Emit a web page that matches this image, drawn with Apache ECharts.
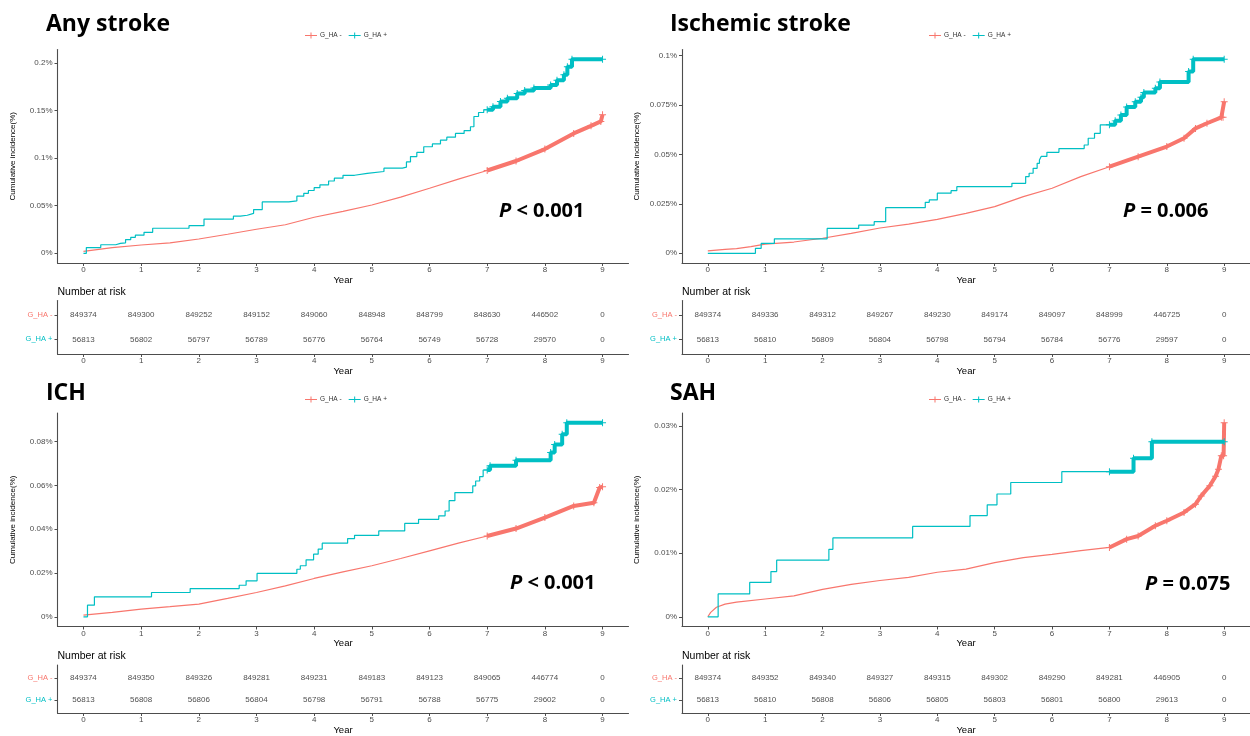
<!DOCTYPE html>
<html>
<head>
<meta charset="utf-8">
<script src="https://cdn.jsdelivr.net/npm/echarts@6/dist/echarts.min.js"></script>
<style>
  html, body { margin: 0; padding: 0; background: #fff; }
  #main { width: 1250px; height: 736px; }
</style>
</head>
<body>
<div id="main"></div>
<script>
// years shown on every x axis / risk table column
const years = [0, 1, 2, 3, 4, 5, 6, 7, 8, 9]

// cumulative incidence (%): [year, value]
const anyStrokeNeg = [[0, 0.002], [0.5, 0.006], [1, 0.0087], [1.5, 0.011], [2, 0.015], [2.5, 0.02], [3, 0.0253], [3.5, 0.03], [4, 0.0379], [4.5, 0.044], [5, 0.0508], [5.5, 0.059], [6, 0.0684], [6.5, 0.078], [7, 0.087], [7.5, 0.097], [8, 0.1095], [8.5, 0.126], [8.8, 0.134], [8.97, 0.1386], [9, 0.1456]]
const anyStrokePos = [[0, 0], [0.05, 0.006], [0.3, 0.009], [0.56, 0.0105], [0.64, 0.011], [0.73, 0.0144], [0.82, 0.0168], [0.9, 0.019], [1.05, 0.022], [1.2, 0.0263], [1.83, 0.029], [2.09, 0.036], [2.6, 0.039], [2.72, 0.04], [2.84, 0.042], [2.95, 0.046], [3.1, 0.054], [3.56, 0.055], [3.7, 0.06], [3.82, 0.063], [3.9, 0.066], [4, 0.069], [4.1, 0.072], [4.25, 0.076], [4.35, 0.079], [4.5, 0.082], [4.7, 0.084], [4.92, 0.086], [5.21, 0.0895], [5.53, 0.0905], [5.6, 0.096], [5.67, 0.1017], [5.78, 0.106], [5.9, 0.112], [6.05, 0.115], [6.19, 0.119], [6.3, 0.122], [6.45, 0.126], [6.6, 0.129], [6.71, 0.133], [6.77, 0.1438], [6.85, 0.148], [6.94, 0.1508], [7, 0.151], [7.1, 0.154], [7.23, 0.1596], [7.35, 0.163], [7.52, 0.168], [7.65, 0.171], [7.81, 0.1737], [8.1, 0.177], [8.21, 0.182], [8.33, 0.1877], [8.39, 0.196], [8.47, 0.204], [9, 0.204]]

const ischemicNeg = [[0, 0.0012], [0.3, 0.002], [0.5, 0.0024], [0.75, 0.0034], [1, 0.0046], [1.5, 0.0057], [2, 0.0076], [2.5, 0.0101], [3, 0.0128], [3.5, 0.0148], [4, 0.0172], [4.5, 0.0202], [5, 0.0236], [5.5, 0.0287], [6, 0.0329], [6.5, 0.0388], [7, 0.0438], [7.5, 0.0489], [8, 0.054], [8.3, 0.0582], [8.5, 0.0632], [8.7, 0.0658], [8.95, 0.0688], [8.98, 0.0688], [9, 0.0767]]
const ischemicPos = [[0, 0], [0.83, 0.0025], [0.93, 0.005], [1.16, 0.0073], [2.08, 0.0126], [2.63, 0.0143], [2.9, 0.016], [3.1, 0.0231], [3.79, 0.0258], [3.86, 0.027], [4, 0.0304], [4.24, 0.0317], [4.34, 0.0337], [5.3, 0.0354], [5.54, 0.0388], [5.6, 0.0405], [5.67, 0.043], [5.74, 0.0455], [5.78, 0.0472], [5.81, 0.049], [5.91, 0.0511], [6.12, 0.053], [6.56, 0.0548], [6.63, 0.0582], [6.74, 0.0607], [6.84, 0.065], [7, 0.065], [7.1, 0.067], [7.2, 0.07], [7.3, 0.074], [7.45, 0.0767], [7.55, 0.079], [7.6, 0.0813], [7.8, 0.0835], [7.88, 0.0867], [8.38, 0.092], [8.46, 0.0982], [9, 0.0982]]

const ichNeg = [[0, 0.0008], [0.5, 0.002], [1, 0.0035], [1.5, 0.0046], [2, 0.0058], [2.5, 0.0084], [3, 0.0111], [3.5, 0.0141], [4, 0.0175], [4.5, 0.0205], [5, 0.0233], [5.5, 0.0266], [6, 0.0301], [6.5, 0.0336], [7, 0.0369], [7.5, 0.0403], [8, 0.0453], [8.5, 0.0506], [8.85, 0.0521], [8.95, 0.059], [9, 0.0594]]
const ichPos = [[0, 0], [0.07, 0.0053], [0.19, 0.0091], [1.18, 0.0111], [1.85, 0.0129], [2.7, 0.0144], [2.82, 0.0164], [3.01, 0.0198], [3.7, 0.0217], [3.76, 0.0233], [3.86, 0.026], [3.99, 0.0286], [4.07, 0.0309], [4.14, 0.0336], [4.58, 0.0357], [4.7, 0.0372], [5.12, 0.0392], [5.57, 0.0426], [5.81, 0.0445], [6.16, 0.0461], [6.27, 0.0483], [6.34, 0.053], [6.44, 0.0567], [6.75, 0.0598], [6.8, 0.062], [6.87, 0.064], [6.93, 0.067], [7, 0.067], [7.05, 0.0689], [7.5, 0.0715], [8.1, 0.075], [8.17, 0.0787], [8.3, 0.0833], [8.38, 0.0886], [9, 0.0886]]

const sahNeg = [[0, 0], [0.05, 0.0007], [0.15, 0.0015], [0.3, 0.002], [0.5, 0.0023], [1, 0.0028], [1.5, 0.0033], [2, 0.0043], [2.5, 0.0051], [3, 0.0057], [3.5, 0.0062], [4, 0.007], [4.5, 0.0075], [5, 0.0085], [5.5, 0.0093], [6, 0.0098], [6.5, 0.0104], [7, 0.0109], [7.3, 0.0122], [7.5, 0.0127], [7.8, 0.0143], [8, 0.0151], [8.3, 0.0164], [8.5, 0.0177], [8.6, 0.019], [8.75, 0.0206], [8.85, 0.0221], [8.9, 0.0232], [8.95, 0.0253], [8.99, 0.0253], [9, 0.0305]]
const sahPos = [[0, 0], [0.18, 0.0036], [0.73, 0.0054], [1.1, 0.0071], [1.2, 0.0089], [2.11, 0.0106], [2.18, 0.0124], [3.57, 0.0142], [4.57, 0.0159], [4.87, 0.0176], [5.04, 0.0193], [5.28, 0.0211], [6.17, 0.0228], [7, 0.0228], [7.42, 0.0249], [7.74, 0.0275], [9, 0.0275]]

// number at risk
const anyRiskNeg = [849374, 849300, 849252, 849152, 849060, 848948, 848799, 848630, 446502, 0]
const anyRiskPos = [56813, 56802, 56797, 56789, 56776, 56764, 56749, 56728, 29570, 0]
const ischRiskNeg = [849374, 849336, 849312, 849267, 849230, 849174, 849097, 848999, 446725, 0]
const ischRiskPos = [56813, 56810, 56809, 56804, 56798, 56794, 56784, 56776, 29597, 0]
const ichRiskNeg = [849374, 849350, 849326, 849281, 849231, 849183, 849123, 849065, 446774, 0]
const ichRiskPos = [56813, 56808, 56806, 56804, 56798, 56791, 56788, 56775, 29602, 0]
const sahRiskNeg = [849374, 849352, 849340, 849327, 849315, 849302, 849290, 849281, 446905, 0]
const sahRiskPos = [56813, 56810, 56808, 56806, 56805, 56803, 56801, 56800, 29613, 0]

// y tick values and labels
const anyTicks = [0, 0.05, 0.1, 0.15, 0.2]
const anyTickLabels = ['0%', '0.05%', '0.1%', '0.15%', '0.2%']
const ischTicks = [0, 0.025, 0.05, 0.075, 0.1]
const ischTickLabels = ['0%', '0.025%', '0.05%', '0.075%', '0.1%']
const ichTicks = [0, 0.02, 0.04, 0.06, 0.08]
const ichTickLabels = ['0%', '0.02%', '0.04%', '0.06%', '0.08%']
const sahTicks = [0, 0.01, 0.02, 0.03]
const sahTickLabels = ['0%', '0.01%', '0.02%', '0.03%']

const groupNames = ['G_HA -', 'G_HA +']

const NEG = '#F8766D'
const POS = '#00BFC4'
const AXIS = '#4d4d4d'
const FONT = 'Liberation Sans'
const PLUS = 'path://M0,4.3H10V5.7H0Z M4.3,0H5.7V10H4.3Z'
const LEGEND_ICON = 'path://M0,4.5H12V5.5H0Z M5.5,2H6.5V8H5.5Z'

const panels = [
  { title: 'Any stroke', pText: '< 0.001', neg: anyStrokeNeg, pos: anyStrokePos, riskNeg: anyRiskNeg, riskPos: anyRiskPos, ticks: anyTicks, tickLabels: anyTickLabels,
    left: 57.5, top: 49.5, riskTop: 300.5, riskH: 53.5, titleX: 46, titleY: 24, pX: 499, pY: 211, legendX: 305, legendY: 32 },
  { title: 'Ischemic stroke', pText: '= 0.006', neg: ischemicNeg, pos: ischemicPos, riskNeg: ischRiskNeg, riskPos: ischRiskPos, ticks: ischTicks, tickLabels: ischTickLabels,
    left: 682, top: 49.5, riskTop: 300.5, riskH: 53.5, titleX: 670, titleY: 24, pX: 1123, pY: 211, legendX: 929, legendY: 32 },
  { title: 'ICH', pText: '< 0.001', neg: ichNeg, pos: ichPos, riskNeg: ichRiskNeg, riskPos: ichRiskPos, ticks: ichTicks, tickLabels: ichTickLabels,
    left: 57.5, top: 413, riskTop: 665, riskH: 53, titleX: 46, titleY: 393, pX: 510, pY: 583, legendX: 305, legendY: 396 },
  { title: 'SAH', pText: '= 0.075', neg: sahNeg, pos: sahPos, riskNeg: sahRiskNeg, riskPos: sahRiskPos, ticks: sahTicks, tickLabels: sahTickLabels,
    left: 682, top: 413, riskTop: 665, riskH: 53, titleX: 670, titleY: 393, pX: 1145, pY: 584, legendX: 929, legendY: 396 }
]

const chart = echarts.init(document.getElementById('main'))

const option = {
  animation: false,
  textStyle: { fontFamily: FONT },
  grid: [],
  xAxis: [],
  yAxis: [],
  series: [],
  legend: [],
  graphic: []
}

function xAxisFor(gridIndex, nameGap) {
  return {
    type: 'value',
    gridIndex,
    min: -0.45,
    max: 9.45,
    axisLine: { show: true, onZero: false, lineStyle: { color: AXIS, width: 1.1 } },
    axisTick: { show: true, length: 3, customValues: years, lineStyle: { color: AXIS } },
    axisLabel: { customValues: years, fontSize: 8, color: AXIS, margin: 3 },
    splitLine: { show: false },
    name: 'Year',
    nameLocation: 'middle',
    nameGap,
    nameTextStyle: { fontSize: 9.5, color: '#000' }
  }
}

panels.forEach((p, i) => {
  const g = i * 2
  const t = i * 2 + 1
  option.grid.push({ left: p.left, top: p.top, width: 571, height: 213.5 })
  option.grid.push({ left: p.left, top: p.riskTop, width: 571, height: p.riskH })

  option.xAxis.push(xAxisFor(g, 9))
  option.xAxis.push(xAxisFor(t, 12))

  const dmax = Math.max(...p.neg.map((d) => d[1]), ...p.pos.map((d) => d[1]))
  option.yAxis.push({
    type: 'value',
    gridIndex: g,
    min: -dmax * 0.05,
    max: dmax * 1.05,
    axisLine: { show: true, onZero: false, lineStyle: { color: AXIS, width: 1.1 } },
    axisTick: { show: true, length: 3, customValues: p.ticks, lineStyle: { color: AXIS } },
    axisLabel: {
      customValues: p.ticks,
      fontSize: 8,
      color: AXIS,
      margin: 5,
      formatter(v) {
        const k = p.ticks.indexOf(v)
        return k >= 0 ? p.tickLabels[k] : ''
      }
    },
    splitLine: { show: false },
    name: 'Cumulative incidence(%)',
    nameLocation: 'middle',
    nameGap: 41,
    nameTextStyle: { fontSize: 8, color: '#000' }
  })
  option.yAxis.push({
    type: 'value',
    gridIndex: t,
    inverse: true,
    min: 0.4,
    max: 2.6,
    axisLine: { show: true, onZero: false, lineStyle: { color: AXIS, width: 1.1 } },
    axisTick: { show: true, length: 3, customValues: [1, 2], lineStyle: { color: AXIS } },
    axisLabel: {
      customValues: [1, 2],
      margin: 5,
      formatter(v) {
        return v === 1 ? '{neg|' + groupNames[0] + '}' : '{pos|' + groupNames[1] + '}'
      },
      rich: {
        neg: { color: NEG, fontSize: 7.5 },
        pos: { color: POS, fontSize: 7.5 }
      }
    },
    splitLine: { show: false }
  })

  // curves
  const curves = [
    { name: groupNames[0], data: p.neg, color: NEG, step: false },
    { name: groupNames[1], data: p.pos, color: POS, step: 'end' }
  ]
  curves.forEach((c) => {
    option.series.push({
      type: 'line',
      name: c.name,
      xAxisIndex: g,
      yAxisIndex: g,
      data: c.data,
      step: c.step,
      symbol: 'none',
      color: c.color,
      lineStyle: { width: 1.2, color: c.color }
    })
    // censored region (dense + marks after year 7)
    option.series.push({
      type: 'line',
      name: c.name,
      xAxisIndex: g,
      yAxisIndex: g,
      data: c.data.filter((d) => d[0] >= 7),
      step: c.step,
      symbol: PLUS,
      symbolSize: 7,
      showSymbol: true,
      color: c.color,
      itemStyle: { color: c.color },
      lineStyle: { width: 4, color: c.color }
    })
  })

  // number at risk table
  const rows = [p.riskNeg, p.riskPos]
  rows.forEach((r, k) => {
    option.series.push({
      type: 'scatter',
      name: 'risk' + k,
      xAxisIndex: t,
      yAxisIndex: t,
      data: years.map((y, j) => [y, k + 1, r[j]]),
      symbolSize: 1,
      itemStyle: { color: 'transparent' },
      label: {
        show: true,
        position: 'inside',
        fontSize: 8,
        color: '#222',
        formatter: (d) => String(d.value[2])
      }
    })
  })

  option.legend.push({
    left: p.legendX,
    top: p.legendY,
    padding: 0,
    itemWidth: 12,
    itemHeight: 6,
    itemGap: 7,
    data: [
      { name: groupNames[0], icon: LEGEND_ICON },
      { name: groupNames[1], icon: LEGEND_ICON }
    ],
    textStyle: { fontSize: 6.5, color: '#333', padding: [0, 0, 0, -2] }
  })

  option.graphic.push({
    type: 'text',
    x: p.titleX,
    y: p.titleY,
    style: { text: p.title, fontFamily: 'Open Sans', fontWeight: 'bold', fontSize: 23, fill: '#000', verticalAlign: 'middle' }
  })
  option.graphic.push({
    type: 'text',
    x: p.pX,
    y: p.pY,
    style: {
      text: '{i|P} ' + p.pText,
      fontFamily: 'Open Sans',
      fontWeight: 'bold',
      fontSize: 20,
      fill: '#000',
      verticalAlign: 'middle',
      rich: {
        i: { fontFamily: 'Open Sans', fontWeight: 'bold', fontStyle: 'italic', fontSize: 20, fill: '#000' }
      }
    }
  })
  option.graphic.push({
    type: 'text',
    x: p.left,
    y: p.riskTop - 8.5,
    style: { text: 'Number at risk', fontFamily: FONT, fontSize: 10.5, fill: '#000', verticalAlign: 'middle' }
  })
})

chart.setOption(option)
</script>
</body>
</html>
